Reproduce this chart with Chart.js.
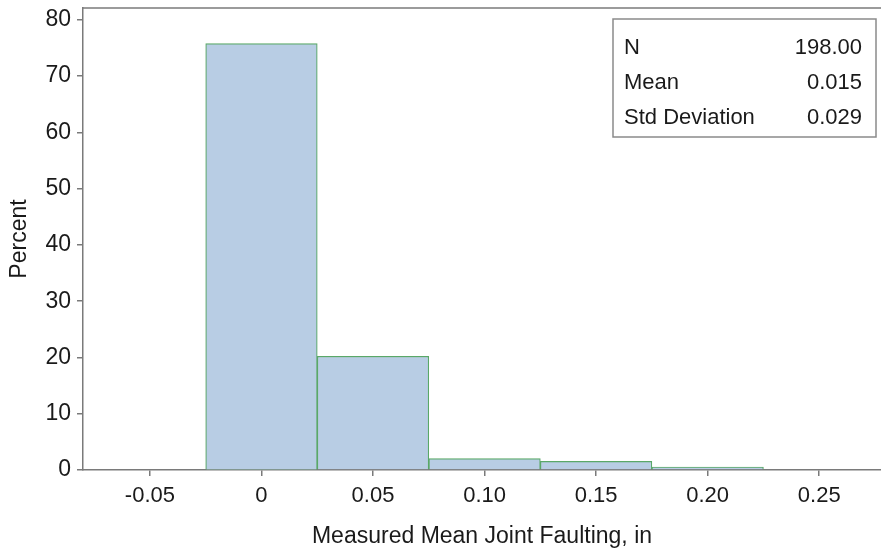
<!DOCTYPE html>
<html>
<head>
<meta charset="utf-8">
<script src="https://cdn.jsdelivr.net/npm/chart.js@4.4.0/dist/chart.umd.min.js"></script>
<style>
	html, body { margin: 0; padding: 0; background: #fff; }
	#histChart { display: block; }
</style>
</head>
<body>
<canvas id="histChart" width="881" height="555"></canvas>
<script>
// histogram bins (midpoints) and percent per bin
const binMids = [0, 0.05, 0.10, 0.15, 0.20];
const percents = [75.76, 20.20, 2.02, 1.52, 0.51];
const statLabels = ['N', 'Mean', 'Std Deviation'];
const statValues = ['198.00', '0.015', '0.029'];

const FONT = 'Arial, "Liberation Sans", sans-serif';
const AXIS_COLOR = '#7a7a7a';

// frame line on top of the plot area + stats box
const framePlugin = {
	id : 'frame',
	afterDraw : function(chart) {
		const c = chart.ctx;
		const a = chart.chartArea;
		c.save();
		c.strokeStyle = AXIS_COLOR;
		c.lineWidth = 1.5;
		c.beginPath();
		c.moveTo(a.left, a.top);
		c.lineTo(a.right, a.top);
		c.stroke();

		// stats box
		const bx = 613, by = 19, bw = 263, bh = 118;
		c.fillStyle = '#fff';
		c.fillRect(bx, by, bw, bh);
		c.strokeStyle = '#8a8a8a';
		c.lineWidth = 1.5;
		c.strokeRect(bx, by, bw, bh);
		c.fillStyle = '#1a1a1a';
		c.font = '22px ' + FONT;
		c.textBaseline = 'middle';
		for (let i = 0; i < statLabels.length; i++) {
			const y = 48 + i * 35;
			c.textAlign = 'left';
			c.fillText(statLabels[i], 624, y);
			c.textAlign = 'right';
			c.fillText(statValues[i], 862, y);
		}
		c.restore();
	}
};

new Chart(document.getElementById('histChart'), {
	type : 'bar',
	data : {
		datasets : [ {
			label : 'Percent',
			data : binMids.map(function(x, i) { return { x : x, y : percents[i] }; }),
			backgroundColor : '#b8cde4',
			borderColor : '#5aa868',
			borderWidth : 1.2,
			barPercentage : 1,
			categoryPercentage : 1
		} ]
	},
	options : {
		responsive : false,
		animation : false,
		layout : { padding : { top : 8, right : 0, left : 0, bottom : 0 } },
		plugins : {
			legend : { display : false },
			tooltip : { enabled : false }
		},
		scales : {
			x : {
				type : 'linear',
				offset : false,
				min : -0.08,
				max : 0.2777,
				afterFit : function(s) {
					s.height = 85;
					s.paddingLeft = 0;
					s.paddingRight = 0;
				},
				grid : { offset : false, drawOnChartArea : false, drawTicks : true, tickLength : 6, color : AXIS_COLOR, lineWidth : 1.5 },
				border : { color : AXIS_COLOR, width : 1.5 },
				ticks : {
					stepSize : 0.05,
					includeBounds : false,
					maxRotation : 0,
					autoSkip : false,
					color : '#1a1a1a',
					padding : 7,
					font : { family : FONT, size : 22 },
					callback : function(v) { return Math.abs(v) < 1e-9 ? '0' : v.toFixed(2); }
				},
				title : {
					display : true,
					text : 'Measured Mean Joint Faulting, in',
					color : '#1a1a1a',
					font : { family : FONT, size : 23 },
					padding : { top : 8, bottom : 5 }
				}
			},
			y : {
				min : 0,
				max : 82.1,
				afterFit : function(s) {
					s.width = 83;
					s.paddingTop = 0;
					s.paddingBottom = 0;
				},
				grid : { drawOnChartArea : false, drawTicks : true, tickLength : 6, color : AXIS_COLOR, lineWidth : 1.5 },
				border : { color : AXIS_COLOR, width : 1.5 },
				ticks : {
					stepSize : 10,
					includeBounds : false,
					color : '#1a1a1a',
					padding : 6,
					font : { family : FONT, size : 23 }
				},
				title : {
					display : true,
					text : 'Percent',
					color : '#1a1a1a',
					font : { family : FONT, size : 23 },
					padding : { top : 6, bottom : 4 }
				}
			}
		}
	},
	plugins : [ framePlugin ]
});
</script>
</body>
</html>
